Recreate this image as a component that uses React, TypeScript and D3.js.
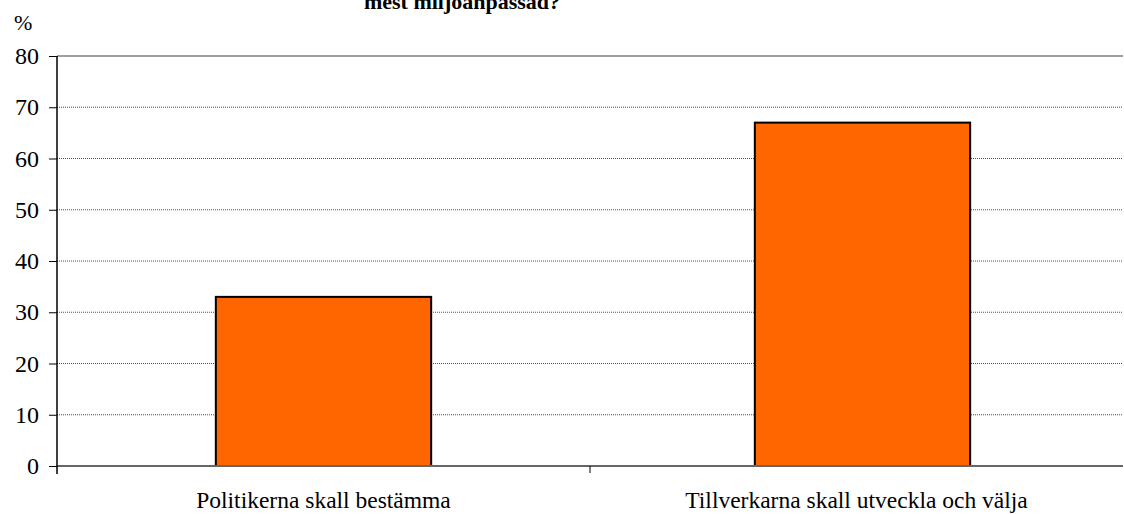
import { useEffect, useRef } from 'react';
import { scaleBand, scaleLinear, select, axisLeft, range } from 'd3';

const categories = ['Politikerna skall bestämma', 'Tillverkarna skall utveckla och välja'];
const values = [33, 67];
const yTicks = [0, 10, 20, 30, 40, 50, 60, 70, 80];
const title = 'mest miljöanpassad?';

const width = 1124;
const height = 514;
const margin = { top: 56, right: 1, bottom: 48, left: 57 };
const font = '"Liberation Serif", "Times New Roman", serif';

const App = () => {
  const yAxisRef = useRef<SVGGElement>(null);

  const innerW = width - margin.left - margin.right;
  const innerH = height - margin.top - margin.bottom;

  const x = scaleBand().domain(categories).range([0, innerW]).padding(0);
  const y = scaleLinear().domain([0, 80]).range([innerH, 0]);
  const barW = x.bandwidth() * 0.404;

  useEffect(() => {
    if (yAxisRef.current) {
      const g = select(yAxisRef.current);
      g.call(axisLeft(y).tickValues(yTicks).tickSize(8).tickPadding(10));
      g.select('.domain').remove();
      g.selectAll('.tick line').attr('stroke', '#000');
      g.selectAll('.tick text').attr('font-family', font).attr('font-size', 24).attr('fill', '#000');
    }
  });

  return (
    <svg width={width} height={height} style={{ position: 'absolute', left: 0, top: 0, background: '#fff' }}>
      <text x={462} y={9} textAnchor="middle" fontFamily={font} fontWeight="bold" fontSize={22}>
        {title}
      </text>
      <text x={14} y={30} fontFamily={font} fontSize={22}>
        %
      </text>
      <g transform={`translate(${margin.left}, ${margin.top})`}>
        {yTicks
          .filter((t) => t > 0 && t < 80)
          .map((t) => (
            <line key={t} x1={0} x2={innerW} y1={y(t)} y2={y(t)} stroke="#222" strokeWidth={0.8} strokeDasharray="1,1" />
          ))}
        <line x1={0} x2={innerW} y1={y(80)} y2={y(80)} stroke="#808080" strokeWidth={1.5} />
        {categories.map((c, i) => (
          <rect
            key={c}
            x={(x(c) as number) + (x.bandwidth() - barW) / 2 + i * 6}
            y={y(values[i])}
            width={barW}
            height={innerH - y(values[i])}
            fill="#ff6600"
            stroke="#000"
            strokeWidth={2}
          />
        ))}
        <line x1={0} x2={innerW} y1={innerH} y2={innerH} stroke="#666" strokeWidth={2} />
        <line x1={0} x2={0} y1={0} y2={innerH + 8} stroke="#000" strokeWidth={1.5} />
        {range(categories.length + 1)
          .slice(1, categories.length)
          .map((i) => (
            <line key={i} x1={x.step() * i} x2={x.step() * i} y1={innerH} y2={innerH + 7} stroke="#000" strokeWidth={1} />
          ))}
        {categories.map((c) => (
          <text
            key={c}
            x={(x(c) as number) + x.bandwidth() / 2}
            y={innerH + 42}
            textAnchor="middle"
            fontFamily={font}
            fontSize={23.5}
          >
            {c}
          </text>
        ))}
        <g ref={yAxisRef} />
      </g>
    </svg>
  );
};

export default App;
